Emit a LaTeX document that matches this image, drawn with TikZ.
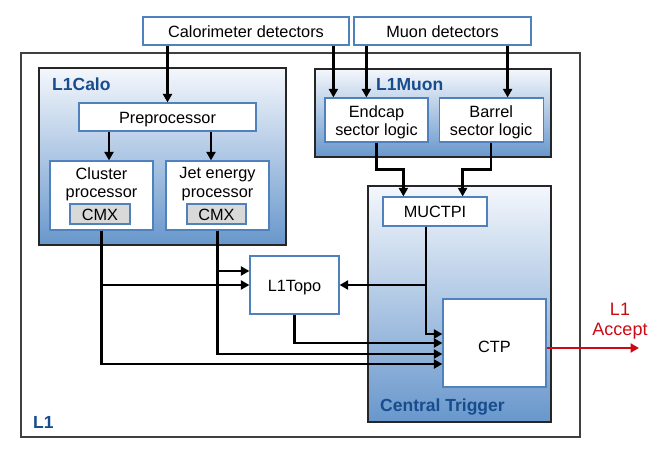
\documentclass[tikz,border=0pt]{standalone}
\usepackage{fontspec}
\setmainfont{Liberation Sans}
\usetikzlibrary{positioning,arrows.meta}

\definecolor{boxblue}{RGB}{79,129,189}
\definecolor{titleblue}{RGB}{24,76,140}
\definecolor{shadetop}{RGB}{244,247,252}
\definecolor{shadebot}{RGB}{104,151,204}
\definecolor{cmxgray}{RGB}{217,217,217}
\definecolor{acceptred}{RGB}{204,10,20}

\begin{document}
\begin{tikzpicture}[x=1pt, y=-1pt,
    font=\fontsize{16.3}{18.5}\selectfont,
    unit/.style={rectangle, draw=boxblue, line width=1.2pt, fill=white, inner sep=0pt, align=center},
    oneline/.style={text height=12.7pt, text depth=0pt},
    twoline/.style={text height=31.7pt, text depth=0pt},
    cmxbox/.style={unit, oneline, fill=cmxgray},
    group/.style={rectangle, draw=black!85, line width=1.8pt, top color=shadetop, bottom color=shadebot, inner sep=0pt},
    title/.style={font=\fontsize{17.5}{20}\selectfont\bfseries, text=titleblue, anchor=west, inner sep=0pt},
    arr/.style={-{Triangle[length=8.5pt,width=9pt]}, line width=2.5pt}]
    \useasboundingbox (0,0) rectangle (665,452);

    % outer frame and groups
    \node[rectangle, draw=black!75, line width=1.6pt, fill=white, minimum width=559pt, minimum height=384pt] (l1) at (300.5,245) {};
    \node[title] (l1lbl) at (33,422) {L1};
    \node[group, minimum width=247pt, minimum height=177pt] (l1calo) at (162.5,156.5) {};
    \node[title] (calolbl) at (52,84) {L1Calo};
    \node[group, minimum width=236pt, minimum height=88pt] (l1muon) at (433,113) {};
    \node[title] (muonlbl) at (376,85) {L1Muon};
    \node[group, minimum width=183pt, minimum height=236pt] (ct) at (459.5,304) {};
    \node[title] (ctlbl) at (380,407) {Central Trigger};

    % detectors
    \node[unit, oneline, minimum width=206pt, minimum height=28pt] (calo) at (246,31) {Calorimeter detectors};
    \node[unit, oneline, minimum width=177pt, minimum height=28pt] (muon) at (442.5,31) {Muon detectors};

    % L1Calo
    \node[unit, oneline, minimum width=177pt, minimum height=28pt] (pre) at (167.5,117) {Preprocessor};
    \node[unit, minimum width=103pt, minimum height=69pt] (cluster) at (101.5,195.5) {};
    \node[anchor=north, align=center, inner sep=0pt] (clustertxt) at ([yshift=-7pt]cluster.north) {Cluster\\processor};
    \node[unit, minimum width=103pt, minimum height=69pt] (jet) at (217.5,195.5) {};
    \node[anchor=north, align=center, inner sep=0pt] (jettxt) at ([yshift=-7pt]jet.north) {Jet energy\\processor};
    \node[cmxbox, minimum width=60pt, minimum height=20pt] (cmxA) at (100,214) {CMX};
    \node[cmxbox, minimum width=59pt, minimum height=20pt] (cmxB) at (216.5,214) {CMX};

    % L1Muon
    \node[unit, twoline, minimum width=103pt, minimum height=44pt] (endcap) at (376.5,120) {Endcap\\sector logic};
    \node[unit, twoline, minimum width=104pt, minimum height=44pt] (barrel) [right=10pt of endcap] {Barrel\\sector logic};

    % central trigger
    \node[unit, oneline, minimum width=104pt, minimum height=29pt] (muctpi) at (435,211.5) {MUCTPI};
    \node[unit, text height=18.7pt, text depth=0pt, minimum width=103pt, minimum height=88pt] (ctp) at (494.5,343) {CTP};
    \node[unit, oneline, minimum width=89pt, minimum height=58pt] (l1topo) at (294.5,285) {L1Topo};

    % L1 accept
    \node[align=center, inner sep=0pt, text=acceptred, font=\fontsize{18}{19.5}\selectfont] (accept) at (620,321) {L1\\Accept};
    \coordinate (tip) at (639,348);

    % connections
    \draw[arr] (pre.north |- calo.south) -- (pre.north);
    \draw[arr] ([xshift=9pt]endcap.north west |- calo.south) -- ([xshift=9pt]endcap.north west);
    \draw[arr] ([xshift=13pt]muon.south west) -- ([xshift=13pt]muon.south west |- endcap.north);
    \draw[arr] ([xshift=-24pt]muon.south east) -- ([xshift=-24pt]muon.south east |- barrel.north);
    \draw[arr] ([xshift=7.5pt]cluster.north |- pre.south) -- ([xshift=7.5pt]cluster.north);
    \draw[arr] ([xshift=-6.5pt]jet.north |- pre.south) -- ([xshift=-6.5pt]jet.north);
    \draw[arr] (endcap.south) -- ++(0,27) -| ([xshift=21pt]muctpi.north west);
    \draw[arr] (barrel.south) -- ++(0,27) -| ([xshift=-25pt]muctpi.north east);
    \draw[arr] ([xshift=-9pt]muctpi.south) |- (l1topo.east);
    \draw[arr] ([xshift=-9pt]muctpi.south) |- ([yshift=9pt]ctp.west);
    \draw[arr] (cluster.south |- l1topo.west) -- (l1topo.west);
    \draw[arr] (cluster.south) |- ([yshift=-21pt]ctp.west);
    \draw[arr] ([yshift=14pt]l1topo.west -| jet.south) -- ([yshift=14pt]l1topo.west);
    \draw[arr] (jet.south) |- ([yshift=-11pt]ctp.west);
    \draw[arr] (l1topo.south) |- (ctp.west);
    \draw[arr, draw=acceptred, fill=acceptred] ([yshift=-5pt]ctp.east) -- (tip);
\end{tikzpicture}
\end{document}
